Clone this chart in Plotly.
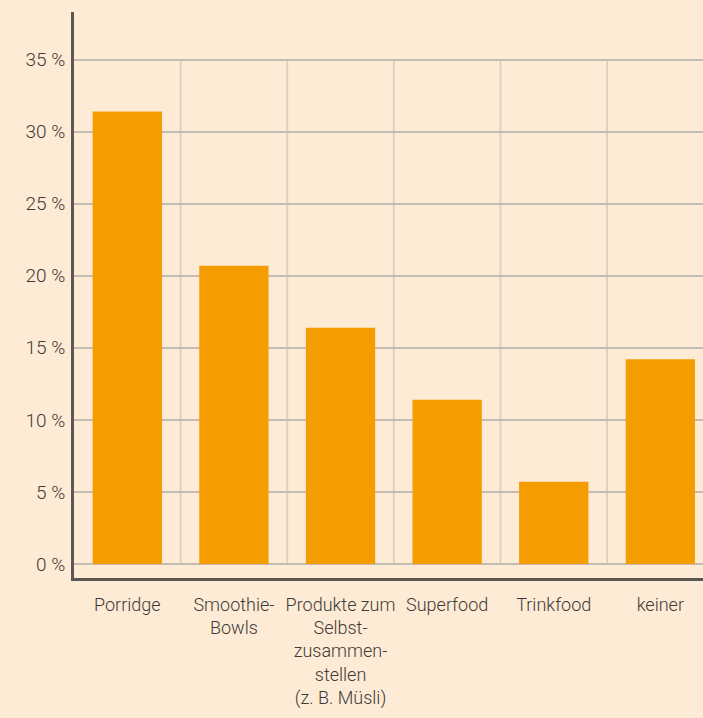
import plotly.graph_objects as go

categories = [
    "Porridge",
    "Smoothie-<br>Bowls",
    "Produkte zum<br>Selbst-<br>zusammen-<br>stellen<br>(z. B. Müsli)",
    "Superfood",
    "Trinkfood",
    "keiner",
]
values = [31.4, 20.7, 16.4, 11.4, 5.7, 14.2]
y_ticks = [0, 5, 10, 15, 20, 25, 30, 35]

BG = "#fdebd5"
BAR = "#f59c00"
TEXT = "#3f3a36"
FONT = "Roboto, Noto Sans, sans-serif"

fig = go.Figure()
fig.add_trace(go.Bar(
    x=list(range(len(categories))),
    y=values,
    marker=dict(color=BAR, line=dict(width=0)),
    width=0.65,
    hoverinfo="y",
))

# vertical separators between categories, from 0 % up to 35 %
for i in range(len(categories) - 1):
    fig.add_shape(type="line", x0=i + 0.5, x1=i + 0.5, y0=0, y1=max(y_ticks),
                  xref="x", yref="y", line=dict(color="#dcd0c3", width=2), layer="below")

fig.update_layout(
    width=703, height=718,
    margin=dict(l=74, r=0, t=12, b=140),
    paper_bgcolor=BG, plot_bgcolor=BG,
    showlegend=False,
    font=dict(family=FONT, color=TEXT, size=18),
    bargap=0.35,
)
fig.update_xaxes(
    tickmode="array",
    tickvals=list(range(len(categories))),
    ticktext=categories,
    range=[-0.5, 5.4],
    showgrid=False, zeroline=False,
    showline=True, linecolor="#5b5753", linewidth=3,
    ticks="outside", ticklen=8, tickcolor="rgba(0,0,0,0)",
    tickfont=dict(size=18, color=TEXT, family=FONT, weight=300),
    tickangle=0,
)
fig.update_yaxes(
    range=[-0.97, 38.3],
    tickmode="array", tickvals=y_ticks,
    ticktext=[f"{v} %" for v in y_ticks],
    showgrid=True, gridcolor="#c4bcb3", gridwidth=1.5,
    zeroline=False,
    showline=True, linecolor="#5b5753", linewidth=3,
    ticks="", ticklabelstandoff=2,
    tickfont=dict(size=19, color=TEXT, family=FONT, weight=300),
)

fig.write_html(
    "out.html",
    config={"displayModeBar": False},
    post_script="document.body.style.margin='0';document.body.style.background='%s';" % BG,
)
